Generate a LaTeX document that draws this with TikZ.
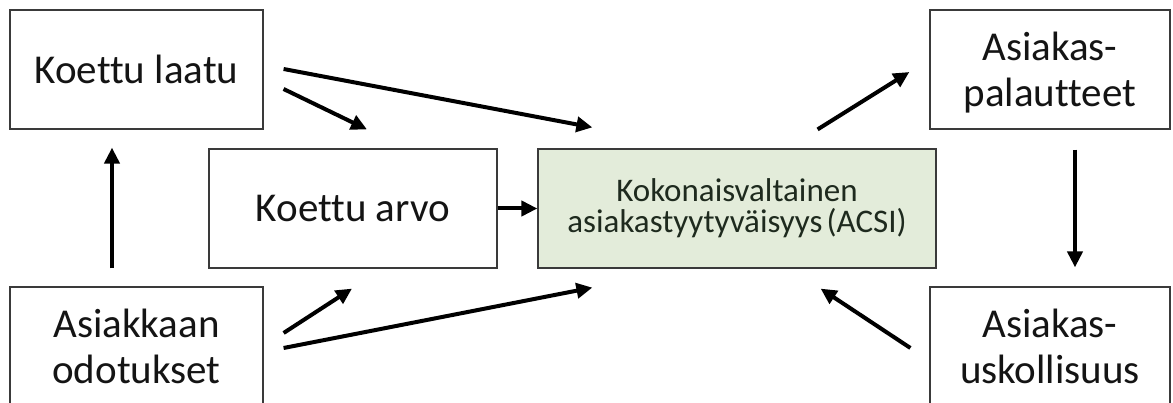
\documentclass[tikz,border=0pt]{standalone}
\usepackage{fontspec}
\setmainfont[Ligatures=NoCommon]{Carlito}
\usetikzlibrary{arrows.meta,calc}
\definecolor{boxline}{HTML}{3A3A3A}
\definecolor{acsifill}{HTML}{E3ECDA}
\definecolor{txtdark}{HTML}{141414}
\definecolor{acsitxt}{HTML}{1E2A1E}
\tikzset{
  box/.style={draw=boxline, line width=1.2pt, fill=white, align=center, inner sep=0pt,
    text=txtdark, font=\fontsize{41}{46}\selectfont},
  acsibox/.style={box, fill=acsifill, text=acsitxt, font=\fontsize{33}{31}\selectfont},
  arr/.style={line width=4pt, draw=black, -{Triangle[length=16pt,width=15pt]}}
}
\begin{document}
\begin{tikzpicture}[x=1pt,y=-1pt]
\useasboundingbox (0,0) rectangle (1173,403);
\fill[white] (0,0) rectangle (1173,403);
\node[box, minimum width=253pt, minimum height=119pt] (kl) at (136.5,69.5) {Koettu laatu};
\node[box, minimum width=288pt, minimum height=119pt] (ka) at (353,208.5) {Koettu arvo};
\node[acsibox, minimum width=398pt, minimum height=119pt] (acsi) at (737,208.5) {Kokonaisvaltainen\\asiakastyytyväisyys\kern-0.1em{} (ACSI)};
\node[box, minimum width=253pt, minimum height=119pt] (ao) at (136.5,346.5) {Asiakkaan\\odotukset};
\node[box, minimum width=240pt, minimum height=119pt, text depth=0pt] (ap) at (1050,69.5) {Asiakas-\\palautteet};
\node[box, minimum width=240pt, minimum height=119pt] (au) at (1050,346.5) {Asiakas-\\uskollisuus};

\draw[arr] ($(ao.north)+(-24.5,-18)$) -- ($(kl.south)+(-24.5,18)$);
\draw[arr] ($(kl.east)+(20,19.5)$) -- ($(ka.north)+(14,-19)$);
\draw[arr] ($(kl.east)+(20,-0.5)$) -- ($(acsi.north west)+(55,-21)$);
\draw[arr] (ka) -- (acsi);
\draw[arr] ($(ao.east)+(20,-13.5)$) -- ($(ka.south)+(-1,20)$);
\draw[arr] ($(ao.east)+(20,1.5)$) -- ($(acsi.south west)+(55,19)$);
\draw[arr] ($(acsi.north east)+(-119,-19)$) -- ($(ap.west)+(-20,2.5)$);
\draw[arr] ($(ap.south)+(25,20)$) -- ($(au.north)+(25,-19)$);
\draw[arr] ($(au.west)+(-19,1.5)$) -- ($(acsi.south east)+(-116,20)$);
\end{tikzpicture}
\end{document}
